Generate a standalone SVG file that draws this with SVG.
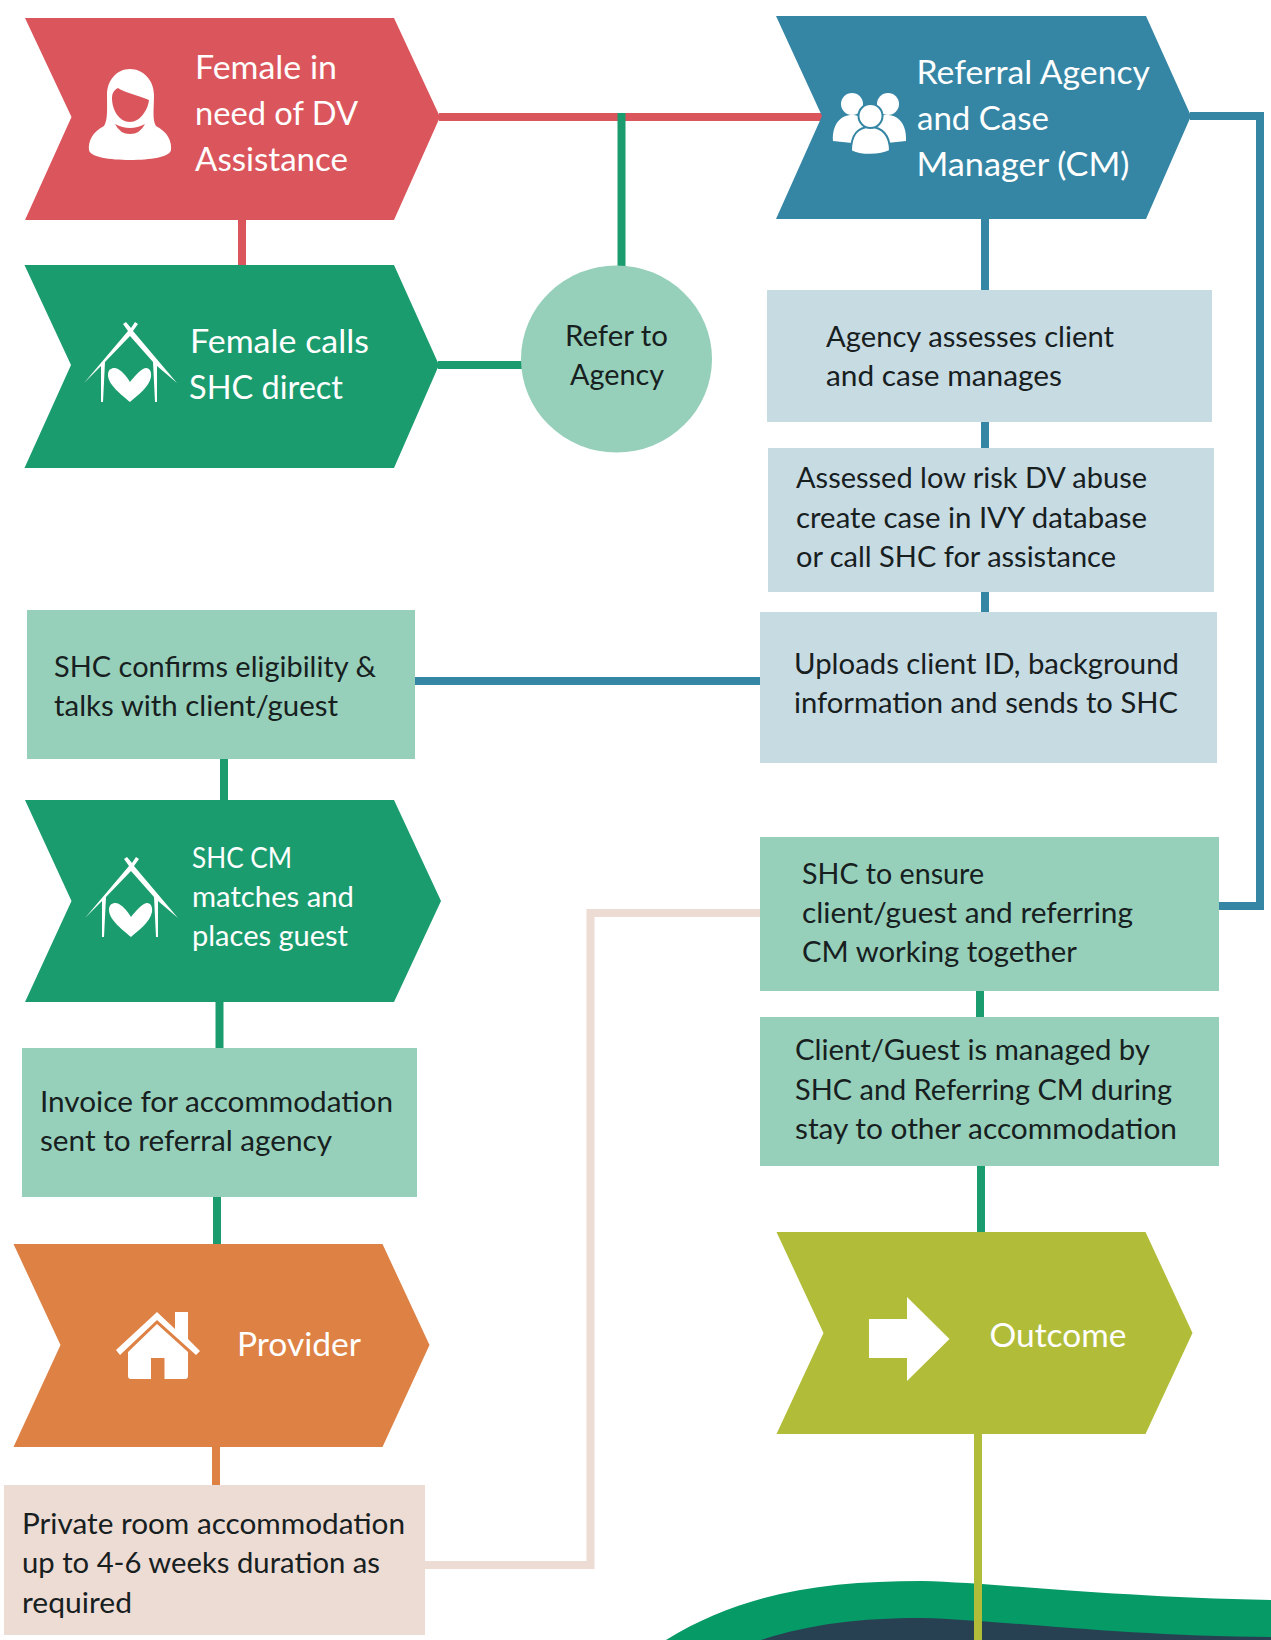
<svg xmlns="http://www.w3.org/2000/svg" xmlns:xlink="http://www.w3.org/1999/xlink" width="1271" height="1640" viewBox="0 0 1271 1640">
<style>
text{font-family:"Lato","Carlito","Liberation Sans",sans-serif}
.h{font-size:32px;fill:#fff}
.s{font-size:28px;fill:#fff}
.d{font-size:28px;fill:#17201f}
.c{fill:none;stroke-width:8}
.ic{fill:#fff}
</style>
<defs>
<g id="shcIcon" class="ic">
<path d="M-46 58L-2 6L-7 -1L-4 -3L1 3L5 -3L8 -1L3 6L47 58L27 41L27 77L25 77L23 37L0 11L-25 37L-27 77L-29 77L-29 41Z"/>
<path d="M0 77C-8 70 -22 60 -22 50C-22 43 -16 42 -12 44C-7 47 -3 52 0 57C4 52 9 46 13 44C18 41 22 45 21 52C19 62 8 70 0 77Z"/>
</g>
</defs>
<g id="wave">
<path d="M666 1640C740 1594 820 1581 922 1581C1000 1583 1110 1597 1271 1600V1640Z" fill="#059a66"/>
<path d="M761 1640C810 1624 860 1618 922 1618C1000 1620 1120 1636 1271 1637V1640Z" fill="#274052"/>
</g>
<g id="connectors" class="c">
<path class="c" stroke="#db565c" d="M439 117H822"/>
<path class="c" stroke="#db565c" d="M242 220V265"/>
<path class="c" stroke="#1b9c6f" d="M621.500 113V267"/>
<path class="c" stroke="#1b9c6f" d="M438 365H525"/>
<path class="c" stroke="#3586a5" d="M985 219V291M985 421V448M985 592V612"/>
<path class="c" stroke="#3586a5" d="M415 681H760"/>
<path class="c" stroke="#3586a5" d="M1190 116H1260V906H1218"/>
<path class="c" stroke="#1b9c6f" d="M224 758V800"/>
<path class="c" stroke="#1b9c6f" d="M219.500 1002V1048"/>
<path class="c" stroke="#1b9c6f" d="M217 1197V1244"/>
<path class="c" stroke="#de8145" d="M216 1446V1485"/>
<path class="c" stroke="#ecdcd3" d="M425 1565H590.500V913H760"/>
<path class="c" stroke="#1b9c6f" d="M980 990V1017"/>
<path class="c" stroke="#1b9c6f" d="M981 1165V1232"/>
<path class="c" stroke="#b1bd38" d="M978 1434V1640"/>
</g>
<g id="female">
<path d="M25 18H394L440 117L394 220H25L71.500 117Z" fill="#db565c"/>
<path class="ic" d="M130 69C117 69 107 80 107 95C107 108 108 120 104 126C92 132 88 142 89 150C90 157 110 160 130 160C150 160 170 157 171 150C172 142 168 132 156 126C152 120 154 108 154 95C154 80 143 69 130 69Z"/>
<path fill="#db565c" d="M118 88C123 92 140 96 149 100C148 110 140 122 130 122C119 122 112 110 112 98C112 93 114 90 118 88Z"/>
<path fill="#db565c" d="M115 124Q130 132 145 124Q140 134 130 134Q120 134 115 124Z"/>
<text class="h" x="195" y="79" textLength="142" lengthAdjust="spacingAndGlyphs">Female in</text>
<text class="h" x="195" y="125" textLength="163" lengthAdjust="spacingAndGlyphs">need of DV</text>
<text class="h" x="195" y="171" textLength="153" lengthAdjust="spacingAndGlyphs">Assistance</text>
</g>
<g id="calls">
<path d="M24.500 265H394L439 365L394 468H24.500L71 365Z" fill="#1b9c6f"/>
<use xlink:href="#shcIcon" href="#shcIcon" x="130" y="325"/>
<text class="h" x="190" y="353" textLength="179" lengthAdjust="spacingAndGlyphs">Female calls</text>
<text class="h" x="189" y="399" textLength="154" lengthAdjust="spacingAndGlyphs">SHC direct</text>
</g>
<g id="refer">
<ellipse cx="616.500" cy="359" rx="95.500" ry="93.500" fill="#96d0ba"/>
<text class="d" x="565" y="346" textLength="103" lengthAdjust="spacingAndGlyphs">Refer to</text>
<text class="d" x="570" y="385" textLength="94" lengthAdjust="spacingAndGlyphs">Agency</text>
</g>
<g id="agency">
<path d="M776 16H1146L1191 116L1146 219H776L822 116Z" fill="#3586a5"/>
<circle cx="852" cy="104" r="11" class="ic"/>
<circle cx="888" cy="104" r="11" class="ic"/>
<path class="ic" d="M833 141C832 125 840 115 852 115C864 115 872 125 871 145ZM906 141C907 125 899 115 887 115C875 115 867 125 868 145Z"/>
<path class="ic" stroke="#3586a5" stroke-width="2" d="M851 151C851 135 858 127 870 127C882 127 890 135 890 151C880 156 860 156 851 151Z"/>
<circle cx="870.500" cy="116" r="12" class="ic" stroke="#3586a5" stroke-width="2"/>
<text class="h" x="916.500" y="84" textLength="233.500" lengthAdjust="spacingAndGlyphs">Referral Agency</text>
<text class="h" x="917" y="130" textLength="132" lengthAdjust="spacingAndGlyphs">and Case</text>
<text class="h" x="916.500" y="176" textLength="213" lengthAdjust="spacingAndGlyphs">Manager (CM)</text>
</g>
<g id="assess">
<rect x="767" y="290" width="445" height="132" fill="#c7dbe3"/>
<text class="d" x="826" y="347" textLength="288" lengthAdjust="spacingAndGlyphs">Agency assesses client</text>
<text class="d" x="826" y="386" textLength="236" lengthAdjust="spacingAndGlyphs">and case manages</text>
</g>
<g id="lowrisk">
<rect x="768" y="448" width="446" height="144" fill="#c7dbe3"/>
<text class="d" x="796" y="488" textLength="351" lengthAdjust="spacingAndGlyphs">Assessed low risk DV abuse</text>
<text class="d" x="796" y="528" textLength="351" lengthAdjust="spacingAndGlyphs">create case in IVY database</text>
<text class="d" x="796" y="567" textLength="320" lengthAdjust="spacingAndGlyphs">or call SHC for assistance</text>
</g>
<g id="uploads">
<rect x="760" y="612" width="457" height="151" fill="#c7dbe3"/>
<text class="d" x="794" y="674" textLength="385" lengthAdjust="spacingAndGlyphs">Uploads client ID, background</text>
<text class="d" x="794" y="713" textLength="384" lengthAdjust="spacingAndGlyphs">information and sends to SHC</text>
</g>
<g id="confirms">
<rect x="27" y="610" width="388" height="149" fill="#96d0ba"/>
<text class="d" x="54" y="677" textLength="322" lengthAdjust="spacingAndGlyphs">SHC confirms eligibility &amp;</text>
<text class="d" x="54" y="716" textLength="284" lengthAdjust="spacingAndGlyphs">talks with client/guest</text>
</g>
<g id="matches">
<path d="M25 800H394L441 901L394 1002H25L71.500 901Z" fill="#1b9c6f"/>
<use xlink:href="#shcIcon" href="#shcIcon" x="131" y="860"/>
<text class="s" x="192" y="868" textLength="100" lengthAdjust="spacingAndGlyphs">SHC CM</text>
<text class="s" x="192" y="907" textLength="162" lengthAdjust="spacingAndGlyphs">matches and</text>
<text class="s" x="192" y="946" textLength="156" lengthAdjust="spacingAndGlyphs">places guest</text>
</g>
<g id="invoice">
<rect x="22" y="1048" width="395" height="149" fill="#96d0ba"/>
<text class="d" x="40" y="1112" textLength="353" lengthAdjust="spacingAndGlyphs">Invoice for accommodation</text>
<text class="d" x="40" y="1151" textLength="292" lengthAdjust="spacingAndGlyphs">sent to referral agency</text>
</g>
<g id="provider">
<path d="M13.500 1244H382.500L429.500 1345L382.500 1447H13.500L60.500 1345Z" fill="#de8145"/>
<path class="ic" d="M157 1312L175 1329V1312H188V1339L200 1351L196 1355L157 1320L120 1355L116 1350Z"/>
<path class="ic" d="M157 1324L188 1352V1376Q188 1379 185 1379H164.500V1358H151V1379H131Q128 1379 128 1376V1352Z"/>
<text class="h" x="237" y="1356" textLength="124" lengthAdjust="spacingAndGlyphs">Provider</text>
</g>
<g id="private">
<rect x="4" y="1485" width="421" height="150" fill="#ecdcd3"/>
<text class="d" x="22" y="1534" textLength="383" lengthAdjust="spacingAndGlyphs">Private room accommodation</text>
<text class="d" x="22" y="1573" textLength="358" lengthAdjust="spacingAndGlyphs">up to 4-6 weeks duration as</text>
<text class="d" x="22" y="1613" textLength="110" lengthAdjust="spacingAndGlyphs">required</text>
</g>
<g id="ensure">
<rect x="760" y="837" width="459" height="154" fill="#96d0ba"/>
<text class="d" x="802" y="884" textLength="182" lengthAdjust="spacingAndGlyphs">SHC to ensure</text>
<text class="d" x="802" y="923" textLength="331" lengthAdjust="spacingAndGlyphs">client/guest and referring</text>
<text class="d" x="802" y="962" textLength="275" lengthAdjust="spacingAndGlyphs">CM working together</text>
</g>
<g id="managed">
<rect x="760" y="1017" width="459" height="149" fill="#96d0ba"/>
<text class="d" x="795" y="1060" textLength="355" lengthAdjust="spacingAndGlyphs">Client/Guest is managed by</text>
<text class="d" x="795" y="1100" textLength="377" lengthAdjust="spacingAndGlyphs">SHC and Referring CM during</text>
<text class="d" x="795" y="1139" textLength="382" lengthAdjust="spacingAndGlyphs">stay to other accommodation</text>
</g>
<g id="outcome">
<path d="M776.500 1232H1145.500L1192.500 1333L1145.500 1434H776.500L823.500 1333Z" fill="#b1bd38"/>
<path class="ic" d="M869 1319H907V1297L949.500 1339L907 1381V1358H869Z"/>
<text class="h" x="989.500" y="1347" textLength="137" lengthAdjust="spacingAndGlyphs">Outcome</text>
</g>
</svg>
